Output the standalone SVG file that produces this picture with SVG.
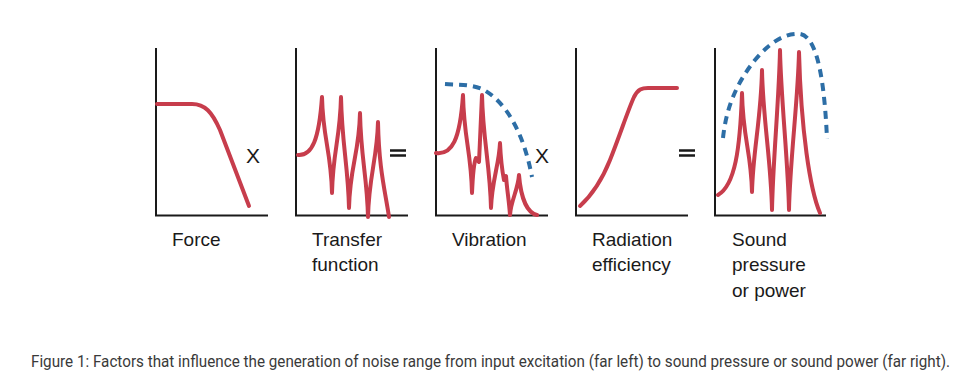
<svg xmlns="http://www.w3.org/2000/svg" width="975" height="381" viewBox="0 0 975 381">
<style>
.axis{fill:none;stroke:#1a1a1a;stroke-width:2}
.red{fill:none;stroke:#c73d4c;stroke-width:4;stroke-linecap:round;stroke-linejoin:round}
.blue{fill:none;stroke:#2d6ea6;stroke-width:4;stroke-dasharray:8 6;stroke-linecap:butt}
.lbl{font-family:"Liberation Sans",Arial,sans-serif;font-size:19px;fill:#1a1a1a}
.op{font-family:"Liberation Sans",Arial,sans-serif;font-size:21px;fill:#1a1a1a}
.eq{stroke:#1a1a1a;stroke-width:2.5}
.cap{font-family:Roboto,"Liberation Sans",sans-serif;font-size:14px;fill:#3a3a3a}
</style>
<rect width="975" height="381" fill="#ffffff"/>
<g id="force">
<path class="axis" d="M156,48 V215.5 H268"/>
<path class="red" d="M157,104 H192 C205,104 212,112 220,130 L249,206"/>
<text class="lbl" x="172" y="245.5">Force</text>
</g>
<g id="op-x1"><text class="op" x="246" y="163">X</text></g>
<g id="transfer">
<path class="axis" d="M296,48 V215.5 H408"/>
<path class="red" d="M298,155 C312,156 319,140 322,97 C323,140 331,150 332,193 C333,150 340,140 341,97 C342,145 348,165 349,208 C350,165 359,155 360,113 C361,160 367,175 368,217 C369,175 377,160 378,122 C379,170 385,190 389,217"/>
<text class="lbl" x="312" y="245.5">Transfer</text>
<text class="lbl" x="312" y="270.5">function</text>
</g>
<g id="op-eq1"><path class="eq" d="M390,150.5 H406 M390,155.5 H406"/></g>
<g id="vibration">
<path class="axis" d="M436,48 V215.5 H548"/>
<path class="red" d="M436,153 C452,155 460,140 463,95 C464,140 471,150 472,193 C473,170 475,160 476,158 L479,162 C480,140 481,120 482,95 C483,140 490,165 491,208 C492,180 499,165 500,143 C501,165 503,175 504,180 L506,176 C507,190 509,200 510,215 C511,200 518,190 519,175 C521,200 528,213 537,215"/>
<path class="blue" d="M445,84 C460,85 472,84 484,90 C505,102 523,130 532,177"/>
<text class="lbl" x="452" y="245.5">Vibration</text>
</g>
<g id="op-x2"><text class="op" x="535" y="163">X</text></g>
<g id="radiation">
<path class="axis" d="M576,48 V215.5 H688"/>
<path class="red" d="M580,206 C592,195 602,180 610,160 C620,135 628,110 634,97 C638,89 642,88 648,88 H677"/>
<text class="lbl" x="592" y="245.5">Radiation</text>
<text class="lbl" x="592" y="270.5">efficiency</text>
</g>
<g id="op-eq2"><path class="eq" d="M679,150.5 H695 M679,155.5 H695"/></g>
<g id="sound">
<path class="axis" d="M715,48 V215.5 H826"/>
<path class="red" d="M718,195 C735,185 740,150 742,93 C743,140 751,150 752,192 C753,150 761,120 762,70 C763,120 771,160 772,210 C773,160 779,100 780,50 C781,100 788,160 789,210 C790,160 798,100 799,52 C801,130 810,190 820,213"/>
<path class="blue" d="M723,138 C726,110 735,85 755,60 C770,42 785,33 800,34 C815,36 824,70 827,139"/>
<text class="lbl" x="732" y="245.5">Sound</text>
<text class="lbl" x="732" y="271">pressure</text>
<text class="lbl" x="732" y="297">or power</text>
</g>
<g id="connectors"/>
<g id="caption" transform="translate(31,367) scale(1,1.2)">
<text class="cap" x="0" y="0" textLength="919" lengthAdjust="spacingAndGlyphs">Figure 1: Factors that influence the generation of noise range from input excitation (far left) to sound pressure or sound power (far right).</text>
</g>
</svg>
